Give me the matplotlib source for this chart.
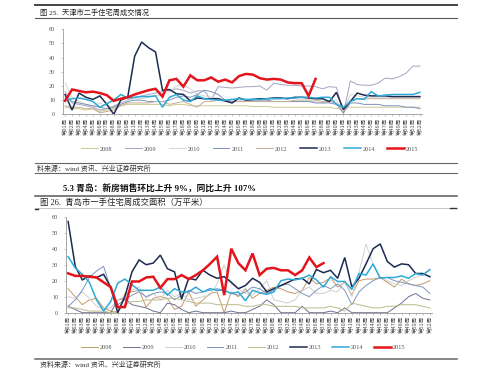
import matplotlib.pyplot as plt
from matplotlib.lines import Line2D

plt.rcParams['font.family'] = ['Liberation Serif', 'Noto Sans CJK SC']

years = ['2008', '2009', '2010', '2011', '2012', '2013', '2014', '2015']
weeks = ['第%02d周' % (i + 1) for i in range(52)]

# 图25 天津市二手住宅周成交
tj08 = [5, 4, 4, 3, 4, 2, 3, 4, 6, 7,
        7, 7, 7, 7, 7, 6, 7, 7, 6, 6,
        6, 6, 6, 6, 6, 6, 6, 5.5, 5.5, 5.5,
        5, 5, 5, 5, 5, 5, 5, 5, 5, 4,
        5, 5, 5, 5, 5, 5, 5, 5, 5, 5,
        5, 5]
tj09 = [16, 8, 7, 6, 5, 3, 4, 6, 8, 10,
        12, 13, 14, 15, 16, 17, 18, 17, 15, 16.5,
        16.5, 10, 19.5, 19, 18.5, 19, 19.5, 19.5, 20, 17,
        22, 21, 20.5, 20.5, 20, 20, 19.5, 18, 19.5, 19,
        0.5, 23.5, 21, 20.5, 20.5, 22, 25.5, 25, 26.5, 29,
        34, 34]
tj10 = [22, 12, 9, 7, 6, 8, 6, 5, 8, 10,
        11, 11, 12, 13, 14, 16, 20, 21, 18, 14,
        13, 12, 11, 10, 10, 10, 9, 9, 9, 9,
        9, 9, 9, 9, 9, 9, 9, 8, 9, 10,
        2, 14, 13, 12, 12, 12, 12, 12, 12, 12,
        12, 12]
tj11 = [12, 9, 8, 7, 6, 5, 4, 5, 7, 9,
        10, 10, 9, 9, 9, 10, 12, 13, 12, 14,
        17, 16, 14, 10, 9, 9, 9, 10, 10, 10,
        9, 9, 9, 9, 9, 9, 8, 8, 8, 7,
        1, 8, 8, 7, 7, 7, 6, 6, 6, 5,
        5, 4]
tj12 = [6, 5, 5, 4, 4, 1, 2, 3, 6, 8,
        8, 8, 8, 9, 9, 7, 8, 9, 7, 5,
        9, 9, 10, 9, 9, 9, 9, 9, 9, 9,
        9, 9, 9, 10, 10, 10, 10, 9, 9, 8,
        2, 10, 11, 11, 11, 11, 11, 11, 11, 11,
        11, 11]
tj13 = [14, 3, 15, 12, 10.5, 13, 7, 0, 10, 12,
        41, 51, 47, 44, 17, 17.5, 14.5, 14, 9.5, 11.5,
        11, 11, 11, 9.5, 8, 11.5, 10, 10.5, 11, 11,
        11.5, 11.5, 11, 12, 12, 11.5, 11, 11, 9, 15.5,
        3.5, 9, 15, 13.5, 13, 13, 13, 12.5, 12.5, 12.5,
        12.5, 12.5]
tj14 = [10, 11, 11.5, 10.5, 9, 5, 7.5, 10, 14, 11.5,
        12, 12.5, 12.5, 13, 5, 12, 14, 10, 9, 13,
        11, 10.5, 10, 10, 10.5, 11, 10.5, 10.5, 10.5, 11,
        11, 11, 11.5, 11.5, 12, 12, 11.5, 12, 12, 7,
        5, 9, 11, 10.5, 16, 13, 13.5, 14, 14, 14,
        14, 15.5]
tj15 = [9.5, 17.5, 16.5, 15.5, 16, 15, 13.5, 9.5, 11, 12,
        14, 15.5, 17, 18, 12.5, 24, 25, 19.5, 27.5, 24,
        24, 26, 23, 24.5, 22.5, 27, 28.5, 28, 25.5, 24.5,
        25, 24.5, 22.5, 22, 22, 13, 25]

# 图26 青岛市一手住宅周成交面积
qd08 = [15, 10, 5, 8, 9, 3, 1, 0, 12, 13,
        14, 3.5, 9, 10, 9, 2, 4, 13, 4, 8,
        12, 13, 0, 13, 10, 15, 9, 12, 14, 16,
        15, 13, 12, 14, 22, 18, 19, 22, 16, 19,
        11, 20, 21, 21, 22, 19, 16, 21, 18, 17,
        18, 20]
qd09 = [4, 2, 0, 0, 0, 0, 0, 8, 9, 5,
        4, 3, 1, 0, 6, 5, 2, 0, 1, 0,
        0, 0, 0, 1, 0, 0, 2, 4, 8, 5,
        0, 0, 0, 4, 0, 0, 0, 1, 0, 3,
        0, 0, 0, 0, 0, 0, 3, 6, 10, 12,
        9, 8]
qd10 = [10, 9, 13, 9, 4, 2, 3, 8, 10, 14,
        16, 9, 12, 8, 14, 10, 12, 8, 9, 10,
        11, 18, 30, 18, 15, 12, 11, 15, 20, 8,
        7, 6, 8, 14, 16, 12, 12, 14, 13, 20,
        10, 25, 43, 30, 22, 20, 18, 17, 20, 22,
        24, 27]
qd11 = [4, 8, 14, 22, 26, 29, 15, 5, 8, 11,
        13, 10, 12, 13, 12, 8, 11, 14, 12, 13,
        14, 15, 14, 12, 11, 13, 16, 15, 12, 14,
        17, 18, 15, 12, 10, 14, 17, 15, 18, 14,
        5, 13, 17, 20, 22, 22, 20, 19, 18, 17,
        16, 12]
qd12 = [3, 3, 2, 1, 1, 1, 0, 1, 5, 7,
        7, 8, 8, 8, 9, 9, 8, 7, 6, 6,
        6, 5, 5, 5, 5, 4, 4, 5, 5, 4,
        4, 4, 4, 3, 3, 3, 3, 4, 3, 1,
        6, 5, 4, 3, 3, 4, 4, 5, 5, 5,
        4, 3]
qd13 = [57, 29, 20.5, 23, 22, 24, 16, 0, 10, 25.5,
        33, 30, 31, 36, 27.5, 25.5, 8.5, 21.5, 20.5, 26.5,
        23.5, 21.5, 22.5, 19, 15, 17, 21.5, 19, 13, 15,
        17, 19, 21, 21.5, 18, 27, 25, 26.5, 21.5, 34.5,
        16, 21.5, 30.5, 40, 43, 32, 28.5, 30.5, 30, 24.5,
        24.5, 22.5]
qd14 = [35, 28, 24, 19, 8, 1, 7, 18.5, 21, 17.5,
        14, 14, 14, 16, 11, 15, 13, 13, 16, 13,
        15, 14, 14, 12, 13, 7.5, 14, 12.5, 11.5, 13,
        20, 21, 20.5, 21.5, 23.5, 20.5, 16, 22.5, 19.5, 19.5,
        14.5, 24.5, 23.5, 30.5, 21.5, 22, 22, 23, 21.5, 24.5,
        23.5, 27]
qd15 = [24.6, 23, 23, 22.5, 22, 19, 16, 3.5, 3.5, 19.5,
        19.5, 22, 22.5, 15.5, 21, 21, 23.5, 21, 23.5, 26.5,
        30.5, 35, 11, 40, 31, 26.5, 37, 23.5, 27.5, 28,
        26.5, 26.5, 23.5, 26.5, 34.5, 28.5, 31]

tj_colors = ['#cdc894', '#a3a3c2', '#d6d6d6', '#7e93b6', '#c8ad92', '#1c2b52', '#2ea9d8', '#e3141b']
qd_colors = ['#c39a6c', '#6e6e92', '#cfcfcf', '#7d95be', '#bdbb8c', '#1c2b52', '#2ea9d8', '#e3141b']
widths = [0.7, 0.7, 0.7, 0.7, 0.7, 1.1, 1.1, 1.8]

W, H = 499, 376


def fx(x):
    return x / W


def fy(y):
    return 1 - y / H


def draw(ax, data, colors):
    handles = []
    for vals, c, lw in zip(data, colors, widths):
        h, = ax.plot(range(len(vals)), vals, color=c, lw=lw, solid_joinstyle='miter')
        handles.append(h)
    ax.set_xlim(-0.3, 51.3)
    ax.set_ylim(0, 60)
    ax.set_yticks(range(0, 61, 10))
    ax.set_xticks(range(52))
    ax.set_xticklabels(weeks, rotation=90, fontsize=4, family=['Noto Sans CJK SC'], color='#555')
    for s in ['top', 'right']:
        ax.spines[s].set_visible(False)
    for s in ['left', 'bottom']:
        ax.spines[s].set_color('#999')
        ax.spines[s].set_linewidth(0.6)
    ax.tick_params(axis='y', labelsize=4.5, length=1.5, width=0.4, color='#999', pad=4, labelcolor='#555')
    ax.tick_params(axis='x', length=1.5, width=0.4, color='#999', pad=1)
    return handles


fig = plt.figure(figsize=(4.99, 3.76), dpi=100)

ax1 = fig.add_axes([fx(63), fy(114.3), fx(422) - fx(63), (114.3 - 29.3) / H])
h1 = draw(ax1, [tj08, tj09, tj10, tj11, tj12, tj13, tj14, tj15], tj_colors)
ax2 = fig.add_axes([fx(66), fy(312.7), fx(432) - fx(66), (312.7 - 216.7) / H])
h2 = draw(ax2, [qd08, qd09, qd10, qd11, qd12, qd13, qd14, qd15], qd_colors)

leg_kw = dict(loc='center', ncol=8, frameon=False, fontsize=4.5, handlelength=2.7,
              handletextpad=0.3, borderpad=0)
l1 = fig.legend(h1, years, bbox_to_anchor=(fx(250), fy(149)), columnspacing=2.0, **leg_kw)
l2 = fig.legend(h2, years, bbox_to_anchor=(fx(243), fy(347)), columnspacing=1.7, **leg_kw)
for leg in (l1, l2):
    for t in leg.get_texts():
        t.set_color('#555')


def rule(y, lw, color):
    fig.add_artist(Line2D([fx(35), fx(457)], [fy(y), fy(y)], lw=lw, color=color))


rule(5, 1.4, '#444')
rule(18, 0.8, '#555')
rule(163, 0.8, '#666')
rule(173, 0.8, '#666')
rule(196, 1.2, '#666')
rule(208, 0.5, '#aaa')
rule(358.5, 1.1, '#666')
fig.add_artist(Line2D([fx(450), fx(456)], [fy(208), fy(208)], lw=1.0, color='#333'))
fig.add_artist(Line2D([fx(35), fx(38)], [fy(208.5), fy(208.5)], lw=1.0, color='#333'))

fig.text(fx(40), fy(12), '图 25.  天津市二手住宅周成交情况', fontsize=5.2, va='center', color='#222')
fig.text(fx(37), fy(168), '料来源：wind 资讯、兴业证券研究所', fontsize=5, va='center', color='#333')
fig.text(fx(63), fy(189), '5.3 青岛：新房销售环比上升 9%，同比上升 107%', fontsize=6.3,
         fontweight='bold', va='center', color='#111')
fig.text(fx(40), fy(202.5), '图 26.  青岛市一手住宅周成交面积（万平米）', fontsize=6, va='center', color='#222')
fig.text(fx(40), fy(364), '资料来源：wind 资讯、兴业证券研究所', fontsize=5, va='center', color='#333')

fig.savefig('out.png', dpi=100)
